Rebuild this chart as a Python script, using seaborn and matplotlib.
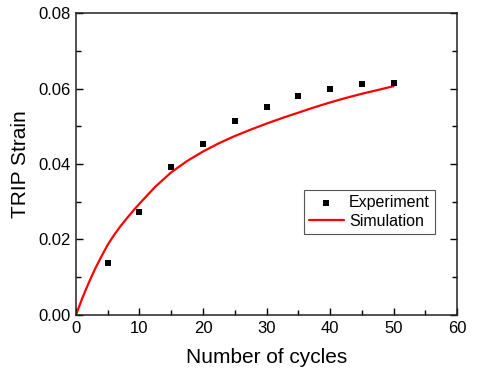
import numpy as np
import pandas as pd
import matplotlib
matplotlib.use("Agg")
import matplotlib.pyplot as plt
from matplotlib.ticker import MultipleLocator
import seaborn as sns

ciclos_exp = [5, 10, 15, 20, 25, 30, 35, 40, 45, 50]
strain_exp = [0.0138, 0.0274, 0.0392, 0.0453, 0.0514, 0.0550, 0.0579, 0.0600, 0.0613, 0.0615]

# Curva de simulacion
ciclos_sim = [0, 1, 2, 3, 4, 5, 6, 7, 8, 9, 10, 12.5, 15, 17.5, 20, 22.5, 25, 27.5,
              30, 32.5, 35, 37.5, 40, 42.5, 45, 47.5, 50]
strain_sim = [0.0, 0.0045, 0.0085, 0.0122, 0.0155, 0.0186, 0.0212, 0.0235, 0.0256,
              0.0276, 0.0295, 0.0340, 0.0378, 0.0408, 0.0433, 0.0455, 0.0474, 0.0491,
              0.0507, 0.0522, 0.0536, 0.0550, 0.0563, 0.0575, 0.0586, 0.0596, 0.0606]

df_exp = pd.DataFrame({"ciclos": ciclos_exp, "strain": strain_exp})
df_sim = pd.DataFrame({"ciclos": ciclos_sim, "strain": strain_sim})

sns.set_style("ticks")
plt.rcParams['font.family'] = ['Liberation Sans', 'DejaVu Sans']
plt.rcParams['text.color'] = 'black'
plt.rcParams['axes.labelcolor'] = 'black'

fig = plt.figure(figsize=(4.98, 3.74), dpi=100)
ax = fig.add_axes([0.1526, 0.1578, 0.7651, 0.8074])

sns.scatterplot(data=df_exp, x="ciclos", y="strain", marker="s", s=25, color="black",
                edgecolor="black", linewidth=0, label="Experiment", ax=ax, zorder=3)
sns.lineplot(data=df_sim, x="ciclos", y="strain", color="red", linewidth=1.6,
             label="Simulation", ax=ax, zorder=2)

ax.set_xlim(0, 60)
ax.set_ylim(0, 0.08)
ax.xaxis.set_major_locator(MultipleLocator(10))
ax.xaxis.set_minor_locator(MultipleLocator(5))
ax.yaxis.set_major_locator(MultipleLocator(0.02))
ax.yaxis.set_minor_locator(MultipleLocator(0.01))
ax.yaxis.set_major_formatter(matplotlib.ticker.FormatStrFormatter('%.2f'))

ax.tick_params(which="both", direction="in", right=True, top=False, labelsize=12,
               colors="black", width=1.0)
ax.tick_params(which="major", length=5, pad=4)
ax.tick_params(which="minor", length=3.5)
for s in ax.spines.values():
    s.set_linewidth(1.1)
    s.set_color("#222222")

ax.set_xlabel("Number of cycles", fontsize=15, labelpad=9)
ax.set_ylabel("TRIP Strain", fontsize=15, labelpad=6)

leg = ax.legend(loc="upper right", bbox_to_anchor=(0.942, 0.414), borderaxespad=0,
                fontsize=11.5, fancybox=False, framealpha=1, edgecolor="#555555",
                handlelength=2.2, handletextpad=0.35, labelspacing=0.25, borderpad=0.3)
leg.get_frame().set_linewidth(0.8)

fig.savefig("out.png", dpi=100)
plt.close(fig)
